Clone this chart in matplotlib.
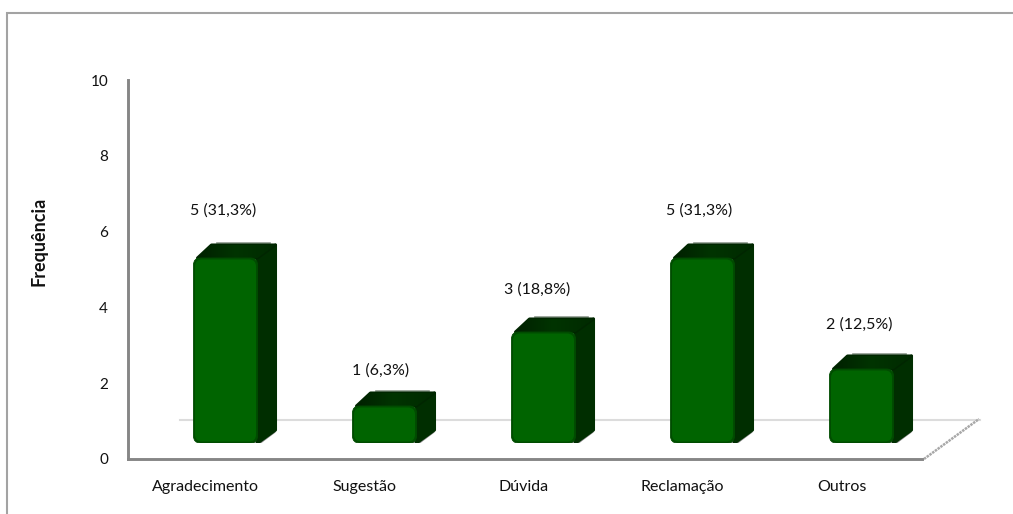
import numpy as np
import matplotlib.pyplot as plt
from matplotlib.patches import FancyBboxPatch, Polygon

plt.rcParams['font.family'] = ['Lato', 'DejaVu Sans']

categories = ['Agradecimento', 'Sugestão', 'Dúvida', 'Reclamação', 'Outros']
frequencies = [5, 1, 3, 5, 2]
percents = ['31,3%', '6,3%', '18,8%', '31,3%', '12,5%']
y_ticks = [0, 2, 4, 6, 8, 10]

W, H = 1013, 514
FS = 11.5
INK = '#111111'

# helper for placing axes from pixel boxes
def px_axes(fig, left, right, top, bottom):
    return fig.add_axes([left / W, 1 - bottom / H, (right - left) / W, (bottom - top) / H])

def fig_line(fig, xs, ys, **kw):
    fig.add_artist(plt.Line2D([x / W for x in xs], [1 - y / H for y in ys], **kw))

fig = plt.figure(figsize=(W / 100, H / 100), dpi=100, facecolor='white')

# chart border, only left and top are drawn
fig_line(fig, [7, 7, W], [H, 13, 13], color='#a3a3a3', lw=1.5, solid_joinstyle='miter')

# value axis with its 0-10 scale
ax = px_axes(fig, 127.5, 922, 80, 459)
ax.set_xlim(0, 1)
ax.set_ylim(0, 10)
ax.set_yticks(y_ticks)
ax.set_xticks([])
ax.patch.set_alpha(0)
for s in ['top', 'right']:
    ax.spines[s].set_visible(False)
for s in ['left', 'bottom']:
    ax.spines[s].set_color('#868686')
    ax.spines[s].set_linewidth(2.1)
ax.tick_params(axis='y', length=0, pad=14, labelsize=11, labelcolor=INK)
fig.text(39 / W, 1 - 241 / H, 'Frequência', rotation=90, ha='center', va='center',
         fontsize=13, fontweight='bold', color=INK)

# floor: back edge and grainy side edge
fig_line(fig, [180, 980], [420, 420], color='#dcdcdc', lw=1.5, zorder=0)
fig_line(fig, [924, 979], [459, 419], color='#a8a8a8', lw=1.8, ls=(0, (1.0, 0.35)), zorder=0)

# bars live in their own plane: 159 px per category, 37 px per unit
bx = px_axes(fig, 146, 941, 50, 443)
x_px, y_px = 159, 37
bx.axis('off')
bx.patch.set_alpha(0)

bar_w = 64 / x_px
dx, dy = 18 / x_px, 13 / y_px
top_shade = np.linspace(0, 1, 64).reshape(1, -1)
top_cmap = plt.matplotlib.colors.LinearSegmentedColormap.from_list('top', ['#001f00', '#003400', '#002a00'])

for i, (cat, v) in enumerate(zip(categories, frequencies)):
    x0 = i - bar_w / 2
    x1 = i + bar_w / 2
    # ground shadow under the front and side faces
    bx.add_patch(Polygon([(x0 + 0.03, -2.5 / y_px), (x1, -3 / y_px), (x1 + dx, dy - 2.5 / y_px), (x1 + dx, dy)],
                         closed=True, fc='#8c8c8c', ec='none', zorder=2))
    # thin grey line behind the back edge of the top
    bx.plot([x0 + dx + 5 / x_px, x1 + dx - 6 / x_px], [v + dy + 2 / y_px] * 2, color='#8f9a8f', lw=1.2, zorder=2)
    # side face
    bx.add_patch(Polygon([(x1, 0), (x1 + dx, dy), (x1 + dx, v + dy), (x1, v)], closed=True,
                         fc='#002e00', ec='#002e00', lw=2.2, joinstyle='round', zorder=3))
    # top face with a left-to-right shade
    top = Polygon([(x0 + 4 / x_px, v), (x0 + dx, v + dy), (x1 + dx, v + dy), (x1, v)], closed=True,
                  fc='#002600', ec='#002600', lw=2.2, joinstyle='round', zorder=3)
    bx.add_patch(top)
    img = bx.imshow(top_shade, extent=(x0, x1 + dx, v, v + dy), aspect='auto', cmap=top_cmap, zorder=3.5)
    img.set_clip_path(top)
    # front face, rounded corners with a darker rim
    pad = 7 / x_px
    pad_y = pad * x_px / y_px
    bx.add_patch(FancyBboxPatch((x0 + pad, pad_y), bar_w - 2 * pad, v - 2 * pad_y,
                                boxstyle=f'round,pad={pad},rounding_size={pad}', mutation_aspect=x_px / y_px,
                                fc='#004c00', ec='#004c00', lw=0.6, zorder=4))
    inset = 1.5 / x_px
    bx.add_patch(FancyBboxPatch((x0 + pad + inset, pad_y + inset * x_px / y_px), bar_w - 2 * pad - 2 * inset,
                                v - 2 * pad_y - 2 * inset * x_px / y_px,
                                boxstyle=f'round,pad={pad},rounding_size={pad}', mutation_aspect=x_px / y_px,
                                fc='#006400', ec='none', zorder=4.5))
    # category label, set left of the bar centre
    bx.annotate(cat, xy=(i, 0), xytext=(-20 * 0.72, -44 * 0.72), textcoords='offset points',
                ha='center', va='center', fontsize=FS, color=INK, annotation_clip=False)

# value labels sit at varying heights above their bars
label_offsets = [(-2, 47.5), (-4, 35.5), (-6, 42.5), (-3, 47.5), (-2, 44.5)]
for i, (v, pct, off) in enumerate(zip(frequencies, percents, label_offsets)):
    bx.annotate(f'{v} ({pct})', xy=(i, v), xytext=(off[0] * 0.72, off[1] * 0.72), textcoords='offset points',
                ha='center', va='center', fontsize=FS, color=INK, zorder=6, annotation_clip=False)

bx.set_xlim(-0.5, 4.5)
bx.set_ylim(0, 393 / y_px)

fig.savefig('out.png', dpi=100)
